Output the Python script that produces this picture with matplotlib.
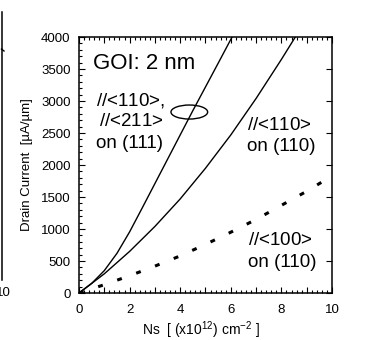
import matplotlib
matplotlib.use("Agg")
import matplotlib.pyplot as plt
import numpy as np
from matplotlib.patches import Ellipse
from matplotlib.lines import Line2D

plt.rcParams['font.family'] = ['Liberation Sans', 'DejaVu Sans']
plt.rcParams['mathtext.fontset'] = 'custom'
plt.rcParams['mathtext.rm'] = 'Liberation Sans'
plt.rcParams['mathtext.it'] = 'Liberation Sans:italic'

# Ns [1e12 cm^-2] vs drain current [uA/um]
ns_111 = [0, 0.5, 1, 1.5, 2, 2.5, 3, 3.5, 4, 4.5, 5, 5.5, 6.05]
id_111 = [0, 150, 350, 620, 955, 1330, 1710, 2090, 2470, 2850, 3220, 3590, 4000]

ns_110 = [0, 1, 2, 3, 4, 5, 6, 7, 8, 8.55]
id_110 = [0, 300, 650, 1040, 1470, 1950, 2470, 3040, 3650, 4000]

ns_100 = [0, 1, 2, 3, 4, 5, 6, 7, 8, 9, 10]
id_100 = [0, 130, 270, 420, 580, 760, 950, 1150, 1370, 1590, 1830]

fig = plt.figure(figsize=(3.69, 3.40), dpi=100)
ax = fig.add_axes([0.2141, 0.1382, 0.6856, 0.7529])

ax.plot(ns_111, id_111, color='black', lw=1.0)
ax.plot(ns_110, id_110, color='black', lw=1.0)
ax.plot(ns_100, id_100, color='black', lw=2.2, dashes=(1.6, 5.0))

ax.add_patch(Ellipse((4.36, 2828), 1.45, 219, fill=False, lw=1.0, color='black'))

ax.set_xlim(0, 10)
ax.set_ylim(0, 4000)
ax.set_xticks(np.arange(0, 11, 1))
ax.set_xticklabels([str(v) if v % 2 == 0 else '' for v in range(11)])
ax.set_xticks(np.arange(0, 10.01, 0.2), minor=True)
ax.set_yticks(np.arange(0, 4001, 500))
ax.set_yticks(np.arange(0, 4001, 100), minor=True)
ax.tick_params(which='both', direction='in', top=True, right=True, labelsize=9.5, width=0.8)
ax.tick_params(which='major', length=4.5)
ax.tick_params(which='minor', length=2.2, right=False)
ax.tick_params(axis='x', pad=8)
ax.tick_params(axis='y', pad=6)
for s in ax.spines.values():
    s.set_linewidth(1.1)

ax.set_xlabel(r'Ns  [ (x10$^{12}$) cm$^{-2}$ ]', fontsize=10)
ax.xaxis.set_label_coords(0.482, -0.105)
ax.set_ylabel('Drain Current  [\u00b5A/\u00b5m]', fontsize=9.5)
ax.yaxis.set_label_coords(-0.181, 0.5)

ax.text(0.55, 3589, 'GOI: 2 nm', fontsize=16, va='center', ha='left')
ax.text(0.67, 3015, r'$\it{//}$<110>,', fontsize=13.5, va='center', ha='left')
ax.text(0.79, 2675, r'$\it{//}$<211>', fontsize=13.5, va='center', ha='left')
ax.text(0.67, 2340, 'on (111)', fontsize=13.5, va='center', ha='left')
ax.text(6.63, 2625, r'$\it{//}$<110>', fontsize=13.5, va='center', ha='left')
ax.text(6.63, 2286, 'on (110)', fontsize=13.5, va='center', ha='left')
ax.text(6.68, 828, r'$\it{//}$<100>', fontsize=13.5, va='center', ha='left')
ax.text(6.68, 469, 'on (110)', fontsize=13.5, va='center', ha='left')

# leftover edge of the neighbouring panel
W, H = 369.0, 340.0
fig.add_artist(Line2D([1.5 / W, 1.5 / W], [1 - 12 / H, 1 - 280 / H], color='black', lw=1.1))
fig.add_artist(Line2D([1.5 / W, 4 / W], [1 - 49 / H, 1 - 51 / H], color='black', lw=1.0))
fig.text(11 / W, 1 - 293 / H, '10', fontsize=9.5, ha='right', va='center')

fig.savefig('out.png', dpi=100)
